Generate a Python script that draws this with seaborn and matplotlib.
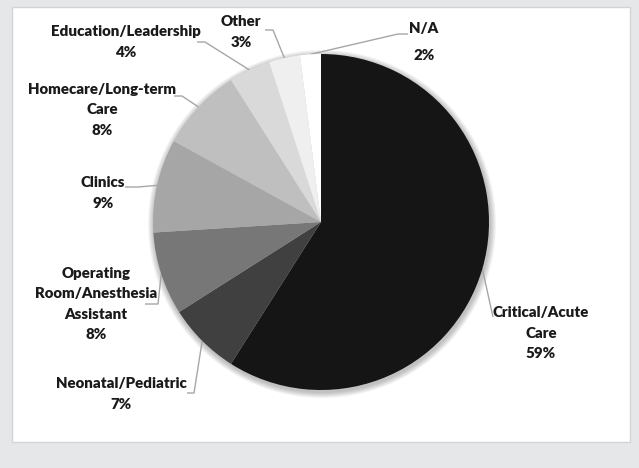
import numpy as np
import matplotlib
matplotlib.use("Agg")
import matplotlib.pyplot as plt
from matplotlib.patches import Rectangle, Circle
import seaborn as sns

# data
categories = ["Critical/Acute\nCare", "Neonatal/Pediatric", "Operating\nRoom/Anesthesia\nAssistant",
              "Clinics", "Homecare/Long-term\nCare", "Education/Leadership", "Other", "N/A"]
shares = [59, 7, 8, 9, 8, 4, 3, 2]
shades = ["#151515", "#404040", "#777777", "#a6a6a6", "#bfbfbf", "#d9d9d9", "#efefef", "#ffffff"]

# layout in pixels (origin top-left): label centres and leader stubs
label_pos = [(541, 333), (121, 394), (96, 304), (103, 193), (102, 110), (126, 42), (241, 32), (424, 42)]
leader_stub = [[(493, 317)], [(187, 393), (194, 393)], [(145, 304), (158, 304)],
               [(125, 187), (138, 187)], [(174, 96), (182, 96)], [(197, 42), (205, 42)],
               [(265, 30), (273, 30)], [(408, 34), (398, 34)]]
W, H = 639, 468
cx, cy, r = 321, 222, 168

sns.set_theme(style="white")
plt.rcParams['font.family'] = ['Lato', 'DejaVu Sans']

fig = plt.figure(figsize=(W / 100, H / 100), dpi=100, facecolor="#e6e7e9")
ax = fig.add_axes([0, 0, 1, 1])
ax.set_facecolor("#e6e7e9")

# white panel
ax.add_patch(Rectangle((12, 7), 618, 435, facecolor="white", edgecolor="#d4d4d4", lw=1, zorder=0))

# soft shadow around the pie
for k in range(1, 7):
    ax.add_patch(Circle((cx + 1, cy + 2), r + k, facecolor="black", edgecolor="none", alpha=0.045, zorder=0.5))

# y axis is flipped later, so counterclockwise in data = clockwise on screen
wedges, _ = ax.pie(shares, colors=shades, startangle=-90, counterclock=True,
                   center=(cx, cy), radius=r, wedgeprops=dict(linewidth=0))
for w in wedges:
    w.set_zorder(1)

for w, cat, val, pos, stub in zip(wedges, categories, shares, label_pos, leader_stub):
    mid = np.deg2rad((w.theta1 + w.theta2) / 2)
    ex, ey = cx + r * np.cos(mid), cy + r * np.sin(mid)
    xs = [p[0] for p in stub] + [ex]
    ys = [p[1] for p in stub] + [ey]
    ax.plot(xs, ys, color="#a6a6a6", lw=1, zorder=0.8, solid_capstyle="butt")
    ls = 2.3 if cat == "N/A" else 1.65
    ax.text(pos[0], pos[1], f"{cat}\n{val}%", ha="center", va="center", fontsize=10.8,
            fontweight="heavy", color="#1a1a1a", linespacing=ls, zorder=3)

ax.set_xlim(0, W)
ax.set_ylim(H, 0)
ax.set_aspect("auto")
ax.axis("off")

fig.savefig("out.png", dpi=100, facecolor=fig.get_facecolor())
